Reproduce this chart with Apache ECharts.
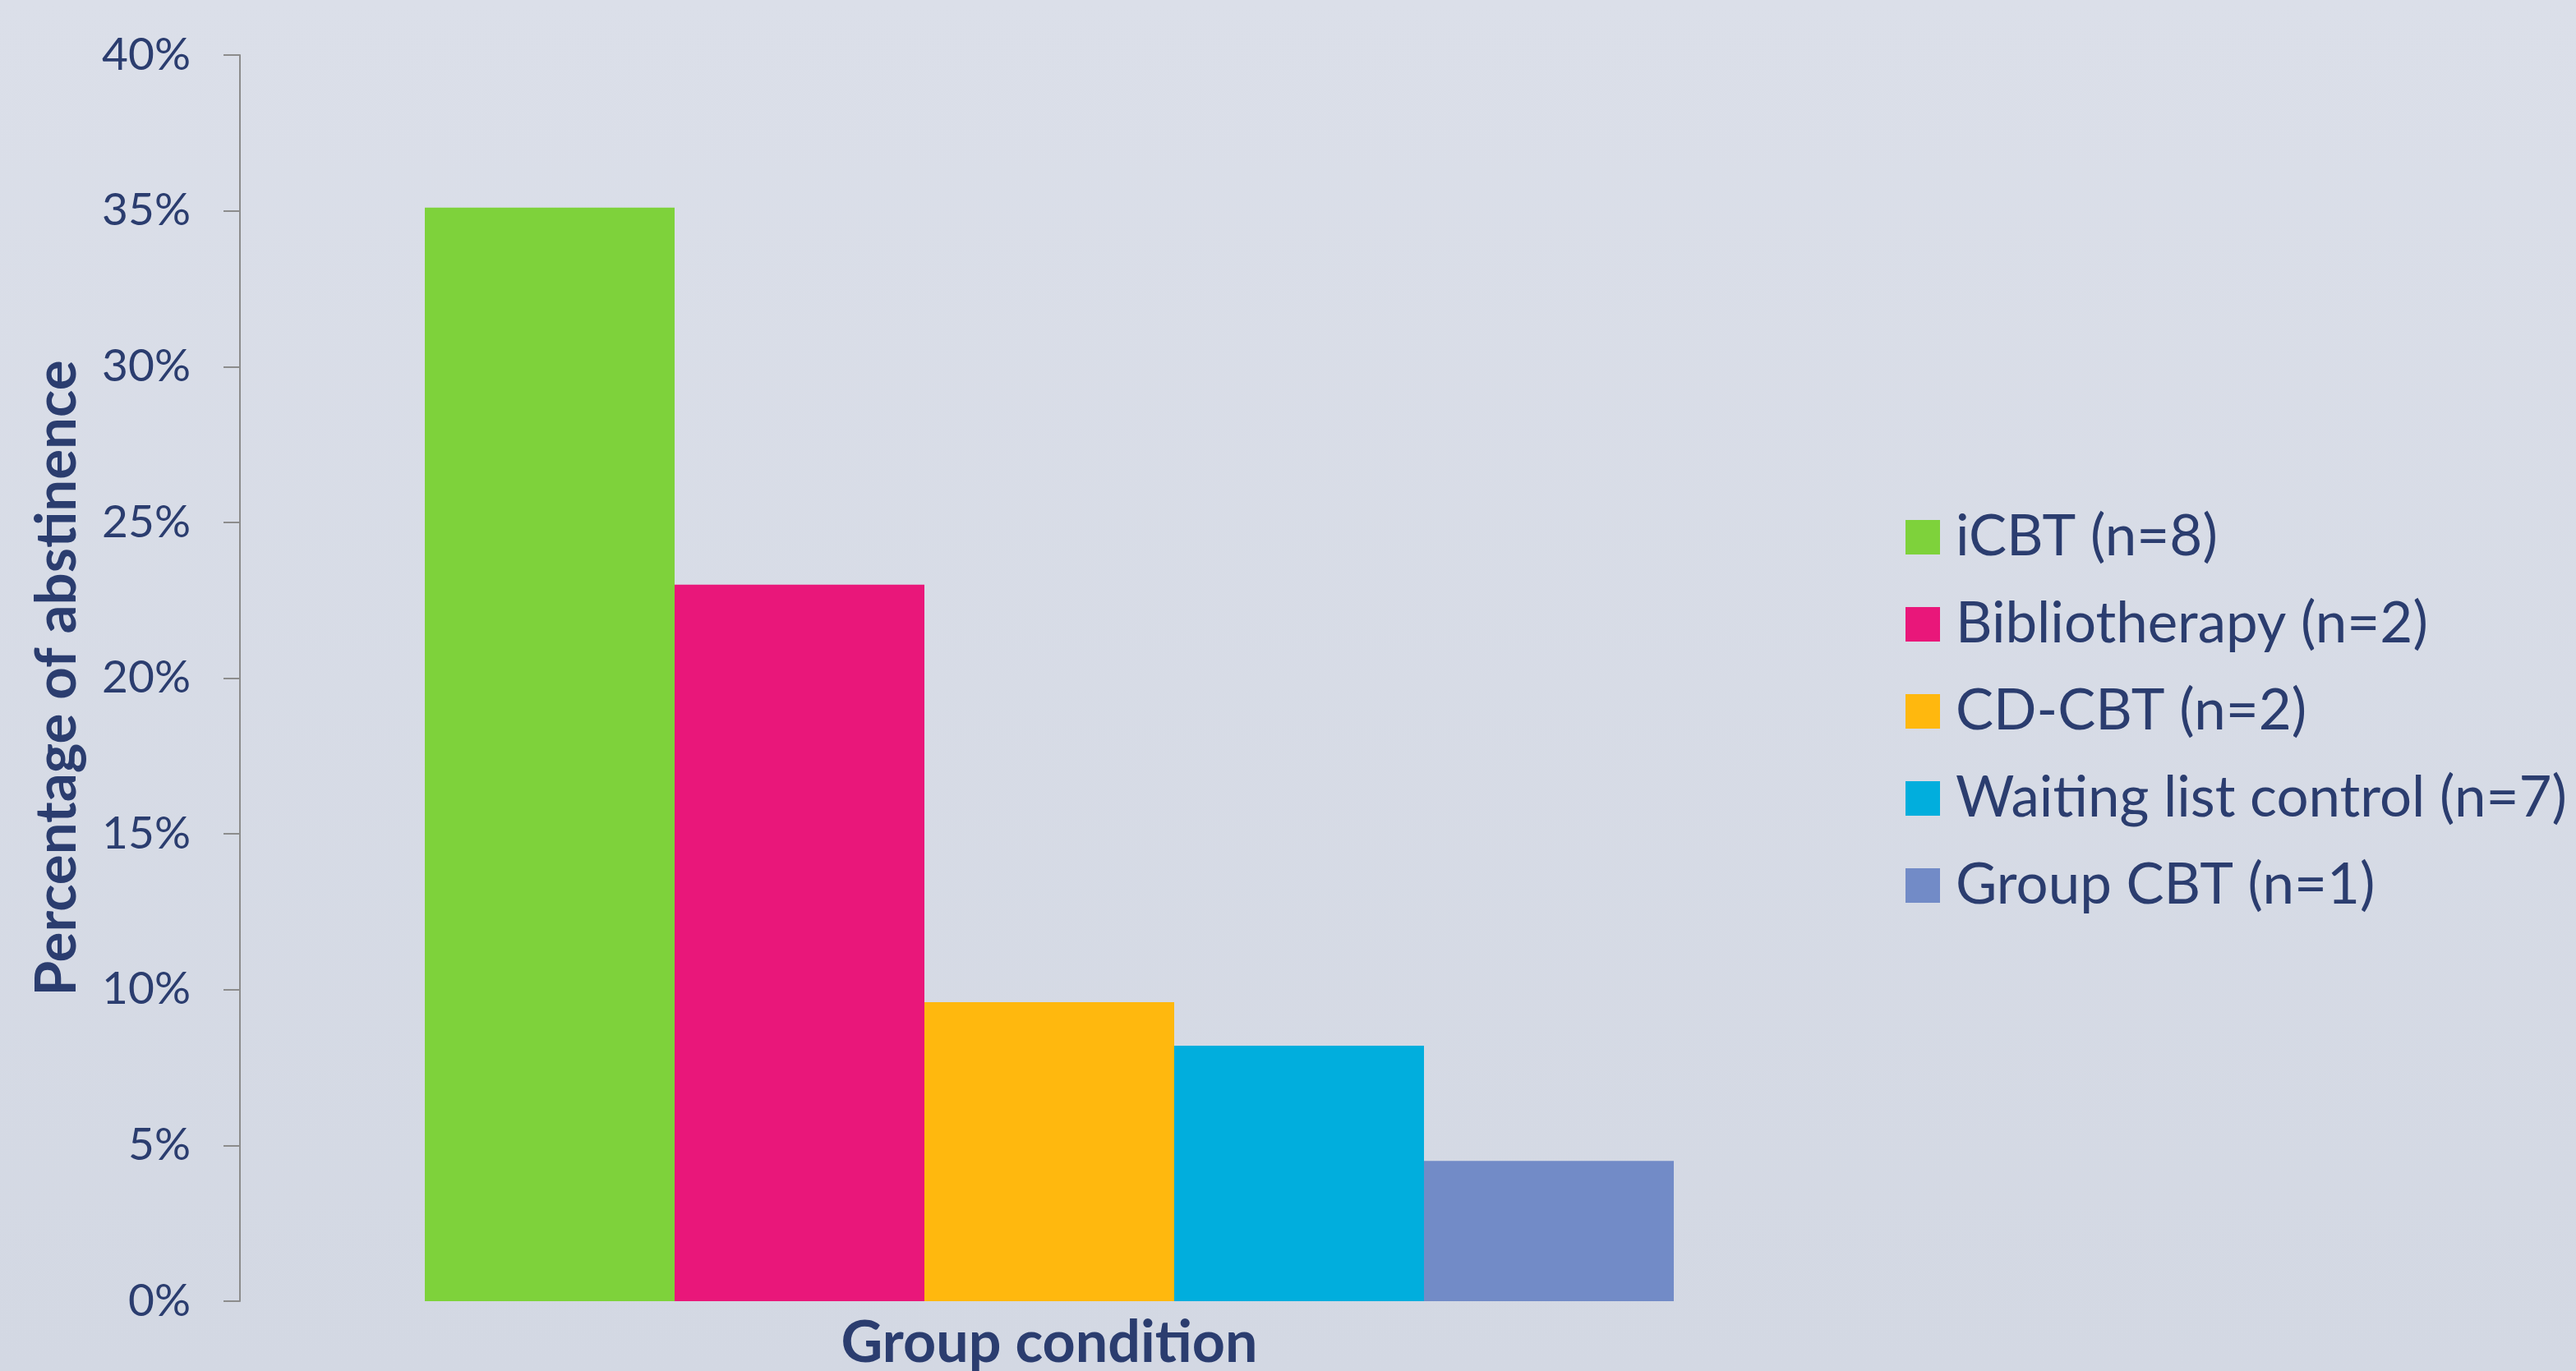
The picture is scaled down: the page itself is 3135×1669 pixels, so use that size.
<!DOCTYPE html>
<html>
<head>
<meta charset="utf-8">
<script src="https://cdn.jsdelivr.net/npm/echarts@6/dist/echarts.min.js"></script>
<style>
  html, body { margin: 0; padding: 0; }
  #chart { width: 3135px; height: 1669px; }
</style>
</head>
<body>
<div id="chart"></div>
<script>
// data
const categories = ['Group condition']
const groupNames = [
  'iCBT (n=8)',
  'Bibliotherapy (n=2)',
  'CD-CBT (n=2)',
  'Waiting list control (n=7)',
  'Group CBT (n=1)',
]
const abstinence = [35.1, 23.0, 9.6, 8.2, 4.5]
const yTicks = [0, 5, 10, 15, 20, 25, 30, 35, 40]

const colors = ['#7ed23b', '#e9177a', '#ffb80e', '#01aedd', '#728bc7']
const textColor = '#2b3d6f'
const axisGrey = '#8c8c8c'
const font = 'Lato'

const myChart = echarts.init(document.getElementById('chart'))

const series = groupNames.map((name, i) => ({
  name: name,
  type: 'bar',
  data: [abstinence[i]],
  barWidth: 304,
  barGap: '0%',
  itemStyle: { color: colors[i] },
}))

const option = {
  backgroundColor: {
    type: 'linear',
    x: 0, y: 0, x2: 0, y2: 1,
    colorStops: [
      { offset: 0, color: '#dbdfe9' },
      { offset: 1, color: '#d3d8e3' },
    ],
  },
  animation: false,
  color: colors,
  grid: {
    left: 292,
    top: 67,
    right: 873,
    bottom: 85,
    containLabel: false,
    outerBoundsMode: 'none',
  },
  legend: {
    orient: 'vertical',
    left: 2314,
    top: 614,
    itemWidth: 42,
    itemHeight: 42,
    itemGap: 36,
    icon: 'rect',
    data: groupNames,
    textStyle: {
      fontFamily: font,
      fontSize: 69,
      lineHeight: 70,
      color: textColor,
      padding: [0, 0, 0, 14],
    },
  },
  xAxis: {
    type: 'category',
    data: categories,
    axisLine: { show: false },
    axisTick: { show: false },
    axisLabel: { show: false },
    name: categories[0],
    nameLocation: 'middle',
    nameGap: 16,
    nameTextStyle: {
      fontFamily: font,
      fontSize: 70,
      fontWeight: 'bold',
      color: textColor,
      verticalAlign: 'top',
    },
  },
  yAxis: {
    type: 'value',
    min: yTicks[0],
    max: yTicks[yTicks.length - 1],
    interval: 5,
    splitLine: { show: false },
    axisLine: { show: true, lineStyle: { color: axisGrey, width: 2 } },
    axisTick: { show: true, length: 20, lineStyle: { color: axisGrey, width: 2 } },
    axisLabel: {
      formatter: '{value}%',
      fontFamily: font,
      fontSize: 55,
      color: textColor,
      margin: 60,
    },
    name: 'Percentage of abstinence',
    nameLocation: 'middle',
    nameRotate: 90,
    nameGap: 188,
    nameTextStyle: {
      fontFamily: font,
      fontSize: 69,
      fontWeight: 'bold',
      color: textColor,
    },
  },
  series: series,
}

option && myChart.setOption(option)
</script>
</body>
</html>
